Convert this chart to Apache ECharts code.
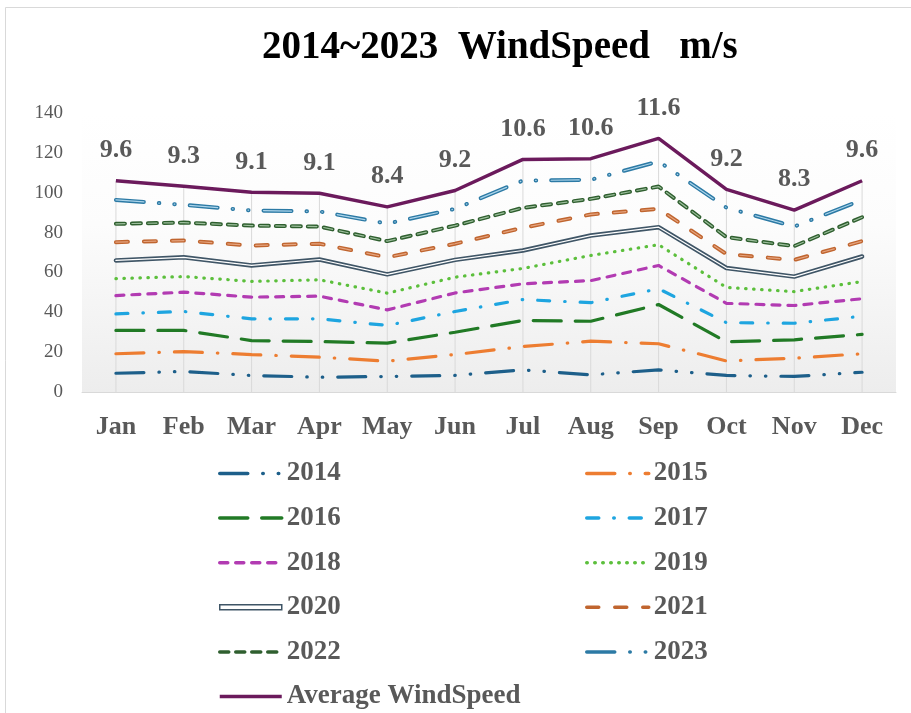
<!DOCTYPE html>
<html>
<head>
<meta charset="utf-8">
<script src="https://cdn.jsdelivr.net/npm/echarts@6/dist/echarts.min.js"></script>
<style>
  html, body { margin: 0; padding: 0; background: #fff; }
  #chart { width: 911px; height: 713px; }
</style>
</head>
<body>
<div id="chart"></div>
<script>
// 月份
var months = ["Jan", "Feb", "Mar", "Apr", "May", "Jun", "Jul", "Aug", "Sep", "Oct", "Nov", "Dec"];
var yearNames = ["2014", "2015", "2016", "2017", "2018", "2019", "2020", "2021", "2022", "2023"];
var avgName = "Average WindSpeed";

// 各年月平均风速 (m/s)
var v2014 = [9.4, 10.3, 8.3, 7.4, 7.8, 8.3, 11.1, 8.6, 11.1, 8.3, 7.8, 9.9];
var v2015 = [9.8, 10.0, 10.5, 10.1, 7.7, 10.5, 11.7, 16.9, 13.1, 7.3, 9.2, 9.3];
var v2016 = [11.7, 10.6, 7.0, 7.8, 9.0, 11.2, 13.1, 10.0, 19.7, 9.6, 9.2, 9.7];
var v2017 = [8.3, 9.5, 10.9, 11.4, 8.9, 10.4, 10.5, 9.3, 7.9, 9.6, 8.3, 9.1];
var v2018 = [9.2, 9.7, 10.9, 11.4, 7.8, 9.3, 7.9, 11.1, 11.7, 9.7, 8.9, 8.8];
var v2019 = [8.5, 7.8, 7.9, 8.2, 8.4, 7.9, 7.7, 12.6, 10.4, 8.0, 7.0, 8.6];
var v2020 = [9.1, 9.7, 8.0, 10.2, 9.4, 8.7, 9.0, 10.0, 8.8, 9.7, 7.5, 12.6];
var v2021 = [9.2, 8.4, 10.0, 7.9, 8.6, 8.1, 11.4, 10.6, 9.2, 7.0, 8.4, 7.7];
var v2022 = [9.2, 9.0, 10.0, 8.6, 8.1, 9.1, 10.0, 7.8, 11.2, 8.5, 6.9, 12.0];
var v2023 = [12.0, 8.9, 7.6, 7.6, 8.8, 8.4, 13.7, 9.6, 12.6, 14.8, 9.8, 8.7];
var avgSpeed = [9.6, 9.3, 9.1, 9.1, 8.4, 9.2, 10.6, 10.6, 11.6, 9.2, 8.3, 9.6];

var yMin = 0, yMax = 140, yStep = 20;

(function () {
    var myChart = echarts.init(document.getElementById("chart"));

    var yearData = [v2014, v2015, v2016, v2017, v2018, v2019, v2020, v2021, v2022, v2023];
    var serif = "'Liberation Serif', 'Times New Roman', serif";

    // 线型
    var styles = [
        { color: "#1d5f8a", type: [28, 15, 0.5, 15, 0.5, 15] },
        { color: "#ed7d31", type: [28, 15, 0.5, 15] },
        { color: "#217a25", type: [28, 14] },
        { color: "#1ea5e0", type: [12, 15, 0.5, 15] },
        { color: "#b23bb2", type: [8, 8] },
        { color: "#5cbf3c", type: [0.5, 7.5] },
        { color: "#3f5566", type: "solid", width: 4.5, inner: "#ffffff" },
        { color: "#c0652f", type: [12, 16], width: 4, inner: "#e5a47f" },
        { color: "#2f5f2f", type: [9, 7], width: 4, inner: "#9dbf9d" },
        { color: "#2c7aa5", type: [28, 15, 0.5, 15, 0.5, 15], width: 4, inner: "#acd4ea" }
    ];

    // 累计值 (用于内线和垂线)
    function cumulative(upto) {
        return months.map(function (m, i) {
            var s = 0;
            for (var k = 0; k <= upto; k++) s += yearData[k][i];
            return +s.toFixed(2);
        });
    }
    var totals = months.map(function (m, i) {
        var s = avgSpeed[i];
        yearData.forEach(function (a) { s += a[i]; });
        return +s.toFixed(2);
    });

    var series = [];
    // 垂线
    series.push({
        type: "bar",
        silent: true,
        barWidth: 1,
        z: 1,
        itemStyle: { color: "#d9d9d9" },
        data: totals
    });

    yearNames.forEach(function (name, k) {
        var st = styles[k];
        series.push({
            name: name,
            type: "line",
            stack: "all",
            symbol: "none",
            z: 3,
            lineStyle: {
                color: st.color,
                width: st.width || 3.2,
                type: st.type,
                cap: "round"
            },
            itemStyle: { color: st.color },
            data: yearData[k]
        });
        if (st.inner) {
            series.push({
                name: name + "_inner",
                type: "line",
                symbol: "none",
                silent: true,
                z: 4,
                lineStyle: {
                    color: st.inner,
                    width: 1.2,
                    type: st.type,
                    cap: "round"
                },
                data: cumulative(k)
            });
        }
    });

    series.push({
        name: avgName,
        type: "line",
        stack: "all",
        symbol: "circle",
        symbolSize: 1,
        z: 5,
        lineStyle: { color: "#6b1a5c", width: 3.5 },
        itemStyle: { color: "rgba(0,0,0,0)" },
        label: {
            show: true,
            position: "top",
            distance: 17,
            fontFamily: serif,
            fontWeight: "bold",
            fontSize: 26,
            color: "#595959"
        },
        data: avgSpeed
    });

    var legendText = {
        fontFamily: serif,
        fontWeight: "bold",
        fontSize: 27,
        color: "#595959",
        lineHeight: 26
    };
    function legendItem(name) {
        if (name === "2020") {
            return {
                name: name,
                icon: "rect",
                itemStyle: { color: "#ffffff", borderColor: "#3f5566", borderWidth: 1.5, opacity: 1 }
            };
        }
        return { name: name };
    }
    function legendCol(left, names) {
        return {
            orient: "vertical",
            left: left,
            top: 460,
            height: 300,
            padding: 0,
            itemWidth: 62,
            itemHeight: 5,
            itemGap: 17.6,
            itemStyle: { opacity: 0 },
            lineStyle: { width: 3.5 },
            textStyle: legendText,
            data: names.map(legendItem)
        };
    }

    var option = {
        backgroundColor: "#ffffff",
        animation: false,
        title: {
            text: "2014~2023  WindSpeed   m/s",
            left: 257,
            top: 23,
            textStyle: {
                fontFamily: serif,
                fontWeight: "bold",
                fontSize: 39,
                color: "#000000"
            }
        },
        graphic: [{
            type: "rect",
            shape: { x: 5.5, y: 7.5, width: 930, height: 730 },
            style: { fill: "none", stroke: "#d9d9d9", lineWidth: 1 },
            silent: true
        }],
        legend: [
            legendCol(218, ["2014", "2016", "2018", "2020", "2022", avgName]),
            legendCol(585, ["2015", "2017", "2019", "2021", "2023"])
        ],
        grid: {
            left: 82,
            right: 15,
            top: 113,
            bottom: 321,
            show: true,
            borderWidth: 0,
            backgroundColor: new echarts.graphic.LinearGradient(0, 0, 0, 1, [
                { offset: 0, color: "#ffffff" },
                { offset: 0.4, color: "#fcfcfc" },
                { offset: 1, color: "#ededed" }
            ])
        },
        xAxis: {
            type: "category",
            boundaryGap: true,
            data: months,
            axisTick: { show: false },
            axisLine: { show: true, lineStyle: { color: "#d9d9d9", width: 1 } },
            axisLabel: {
                margin: 22,
                fontFamily: serif,
                fontWeight: "bold",
                fontSize: 26,
                color: "#595959"
            },
            splitLine: { show: false }
        },
        yAxis: {
            type: "value",
            min: yMin,
            max: yMax,
            interval: yStep,
            axisLine: { show: false },
            axisTick: { show: false },
            splitLine: { show: false },
            axisLabel: {
                margin: 19,
                fontFamily: serif,
                fontSize: 19,
                color: "#595959"
            }
        },
        series: series
    };

    myChart.setOption(option);
    window.addEventListener("resize", function () {
        myChart.resize();
    });
})();
</script>
</body>
</html>
